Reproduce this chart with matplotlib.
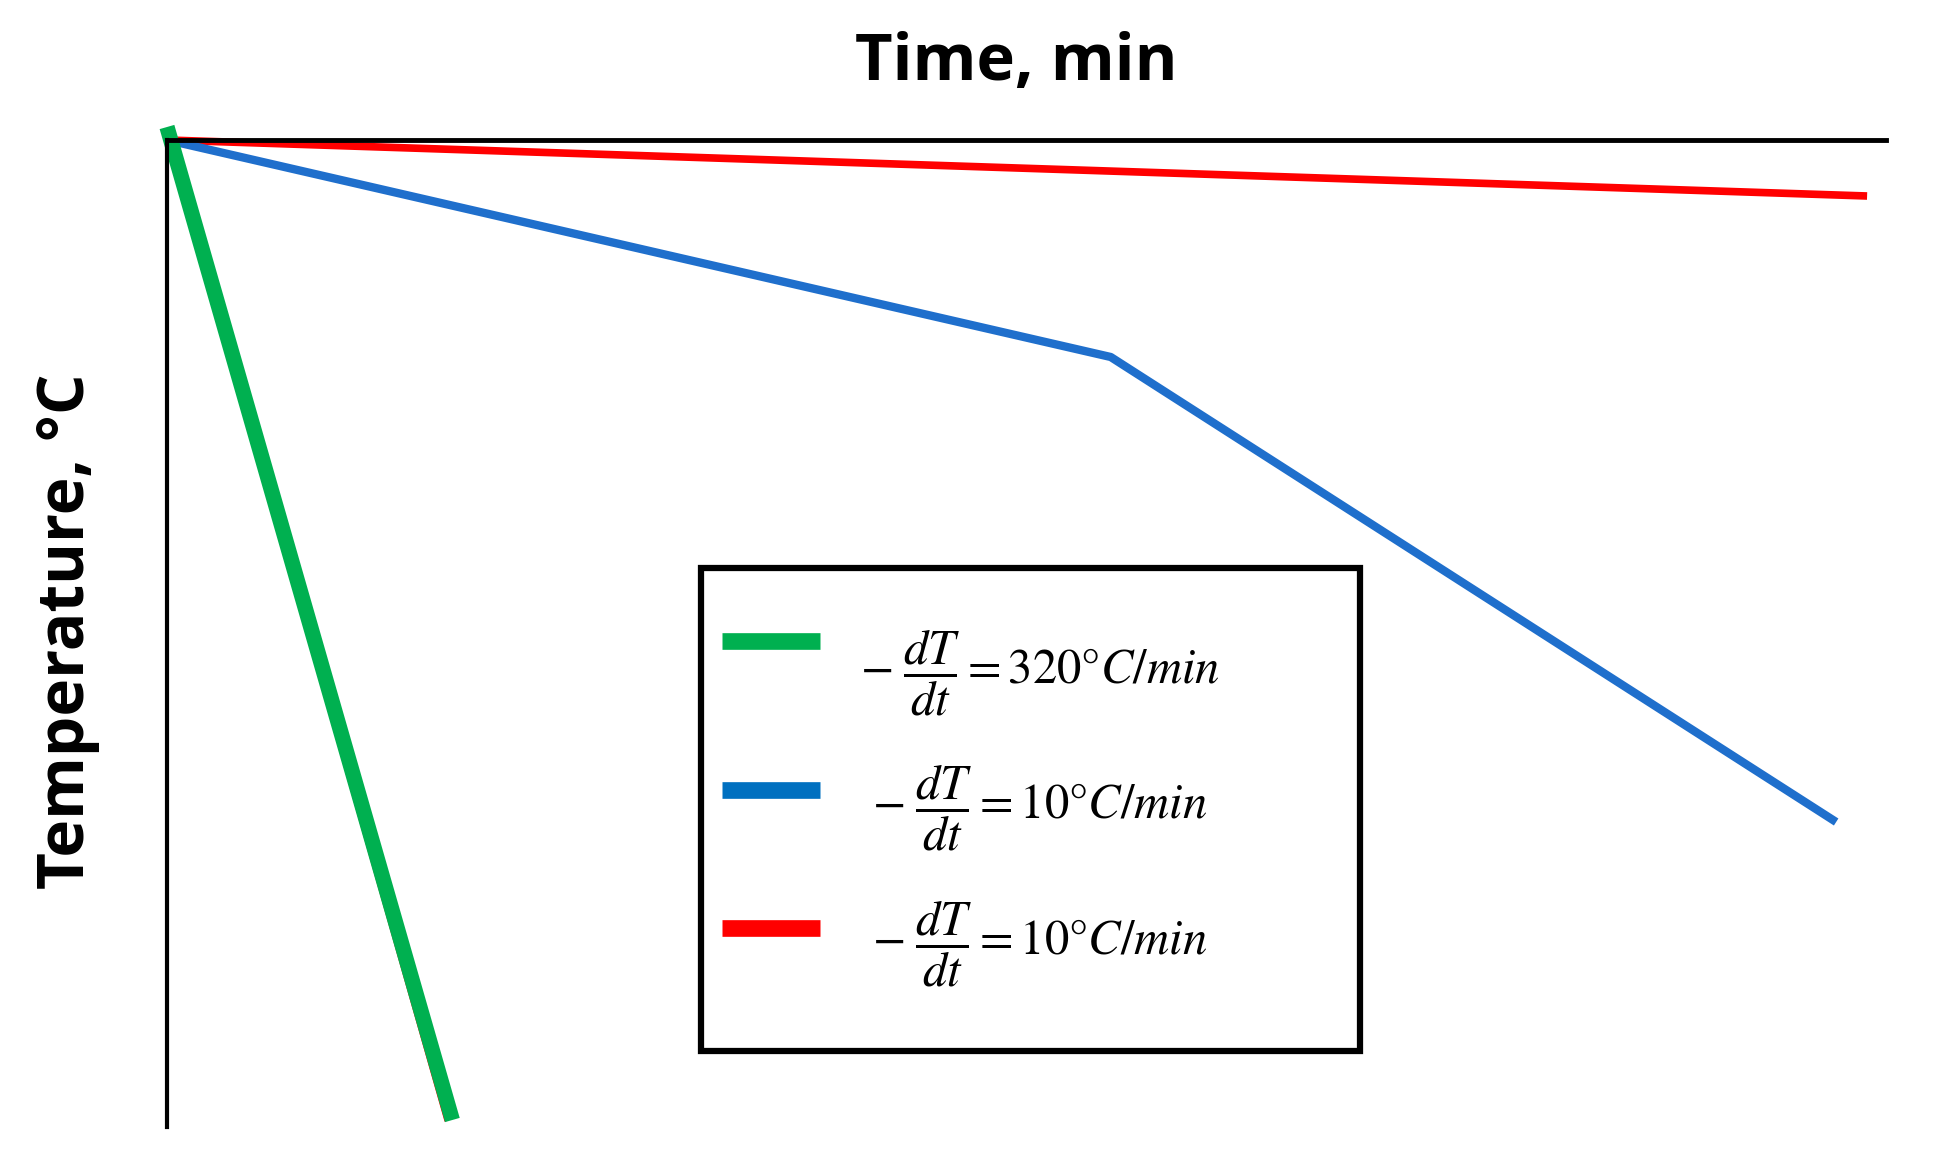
import matplotlib.pyplot as plt

# schematic cooling curves (time in min, temperature in arbitrary degrees)
t_green = [0.0, 1.66]
T_green = [1013, 20]
t_red_fast = [0.0, 1.62]
T_red_fast = [1000, 20]
t_blue = [0.0, 5.49, 9.71]
T_blue = [1000, 783, 318]
t_red = [0.0, 9.89]
T_red = [1000, 944]

labels = [r'$-\;\dfrac{dT}{dt} = 320\degree C/min$',
          r'$-\;\dfrac{dT}{dt} = 10\degree C/min$',
          r'$-\;\dfrac{dT}{dt} = 10\degree C/min$']

plt.rcParams['mathtext.fontset'] = 'stix'

fig = plt.figure(figsize=(19.35, 11.64), dpi=100)
ax = fig.add_axes([167 / 1935, 1 - 1127 / 1164, (1886 - 167) / 1935, (1127 - 140) / 1164])
ax.set_xlim(0, 10)
ax.set_ylim(13, 1000)

ax.plot(t_red, T_red, color='#ff0000', lw=5.5, solid_capstyle='butt', clip_on=False)
ax.plot(t_blue, T_blue, color='#1f6fcc', lw=6, solid_capstyle='butt', clip_on=False)
ax.plot(t_red_fast, T_red_fast, color='#ff0000', lw=2, clip_on=False)
ax.plot(t_green, T_green, color='#00b050', lw=11, solid_capstyle='butt', clip_on=False)

for s in ['right', 'bottom']:
    ax.spines[s].set_visible(False)
ax.spines['top'].set_linewidth(3.5)
ax.spines['left'].set_linewidth(3)
ax.set_xticks([])
ax.set_yticks([])

fig.text(1016 / 1935, 1 - 64 / 1164, 'Time, min', family='Open Sans', weight='bold',
         fontsize=47, ha='center', va='center')
fig.text(68 / 1935, 1 - 631 / 1164, 'Temperature, °C', family='Open Sans', weight='bold',
         fontsize=46, ha='center', va='center', rotation=90)

# legend box drawn by hand
box = plt.Rectangle((701 / 1935, 1 - 1051 / 1164), (1360 - 701) / 1935, (1051 - 568) / 1164,
                    transform=fig.transFigure, fill=False, lw=4.5, edgecolor='black')
fig.add_artist(box)
colors = ['#00b050', '#0070c0', '#ff0000']
rows_y = [641, 790, 928]
text_y = [673, 808, 944]
text_x = [860, 872, 872]
for c, ly, ty, tx, lab in zip(colors, rows_y, text_y, text_x, labels):
    fig.add_artist(plt.Line2D([722 / 1935, 820 / 1935], [1 - ly / 1164] * 2,
                              transform=fig.transFigure, color=c, lw=12, solid_capstyle='butt'))
    fig.text(tx / 1935, 1 - ty / 1164, lab, fontsize=35, ha='left', va='center')

fig.savefig('out.png', dpi=100)
